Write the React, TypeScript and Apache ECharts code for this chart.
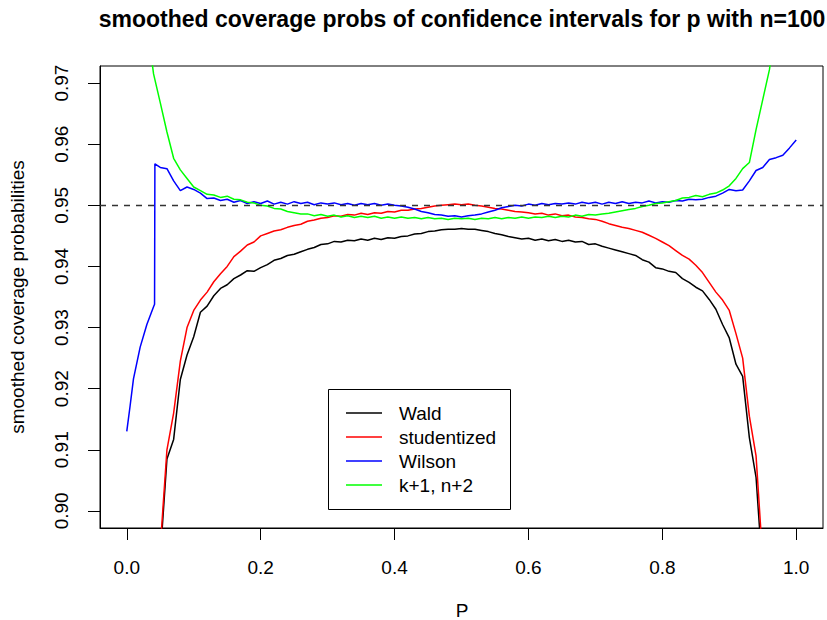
import React, { useEffect, useRef } from "react";
import * as echarts from "echarts";

const FONT = "'Liberation Sans', Arial, Helvetica, sans-serif";

const titleText = "smoothed coverage probs of confidence intervals for p with n=100";
const xLabel = "P";
const yLabel = "smoothed coverage probabilities";

const seriesNames = ["Wald", "studentized", "Wilson", "k+1, n+2"];
const seriesColors = ["#000000", "#FF0000", "#0000FF", "#00FF00"];

const xTicks = [0, 0.2, 0.4, 0.6, 0.8, 1.0];
const yTicks = [0.9, 0.91, 0.92, 0.93, 0.94, 0.95, 0.96, 0.97];
const refLevel = 0.95;

const pGrid = [
  0.00, 0.01, 0.02, 0.03, 0.04, 0.05, 0.06, 0.07, 0.08, 0.09,
  0.10, 0.11, 0.12, 0.13, 0.14, 0.15, 0.16, 0.17, 0.18, 0.19,
  0.20, 0.21, 0.22, 0.23, 0.24, 0.25, 0.26, 0.27, 0.28, 0.29,
  0.30, 0.31, 0.32, 0.33, 0.34, 0.35, 0.36, 0.37, 0.38, 0.39,
  0.40, 0.41, 0.42, 0.43, 0.44, 0.45, 0.46, 0.47, 0.48, 0.49,
  0.50, 0.51, 0.52, 0.53, 0.54, 0.55, 0.56, 0.57, 0.58, 0.59,
  0.60, 0.61, 0.62, 0.63, 0.64, 0.65, 0.66, 0.67, 0.68, 0.69,
  0.70, 0.71, 0.72, 0.73, 0.74, 0.75, 0.76, 0.77, 0.78, 0.79,
  0.80, 0.81, 0.82, 0.83, 0.84, 0.85, 0.86, 0.87, 0.88, 0.89,
  0.90, 0.91, 0.92, 0.93, 0.94, 0.95, 0.96, 0.97, 0.98, 0.99,
  1.00,
];

const wald = [
  null, null, null, null, 0.872, 0.8925, 0.9085, 0.9117, 0.9215, 0.9255,
  0.9285, 0.9325, 0.9335, 0.9352, 0.9364, 0.937, 0.938, 0.9386, 0.9393, 0.9392,
  0.9398, 0.9403, 0.941, 0.9413, 0.9418, 0.942, 0.9424, 0.9428, 0.9431, 0.9436,
  0.9437, 0.9441, 0.944, 0.9443, 0.9442, 0.9445, 0.9443, 0.9446, 0.9444, 0.9447,
  0.9446, 0.9449, 0.945, 0.9453, 0.9454, 0.9457, 0.9458, 0.946, 0.9461, 0.9461,
  0.9462, 0.9461, 0.9461, 0.9459, 0.9457, 0.9454, 0.9452, 0.9449, 0.9447, 0.9445,
  0.9446, 0.9443, 0.9445, 0.9442, 0.9444, 0.9441, 0.9443, 0.944, 0.9441, 0.9436,
  0.9437, 0.9433, 0.943, 0.9427, 0.9424, 0.9421, 0.9418, 0.9411, 0.9407, 0.9398,
  0.9396, 0.9392, 0.939, 0.938, 0.9374, 0.9366, 0.936, 0.9346, 0.933, 0.9305,
  0.9283, 0.924, 0.922, 0.912, 0.9055, 0.8895, 0.87, null, null, null,
  null,
];

const studentized = [
  null, null, null, null, 0.87, 0.894, 0.91, 0.916, 0.9245, 0.93,
  0.9328, 0.9345, 0.9358, 0.9375, 0.9388, 0.94, 0.9416, 0.9425, 0.9435, 0.944,
  0.945, 0.9454, 0.9458, 0.946, 0.9464, 0.9467, 0.9469, 0.9474, 0.9476, 0.9479,
  0.948, 0.9483, 0.9482, 0.9485, 0.9484, 0.9487, 0.9485, 0.9488, 0.9487, 0.949,
  0.9489, 0.9492, 0.9492, 0.9494, 0.9495, 0.9497, 0.9499, 0.95, 0.9501, 0.9502,
  0.9501, 0.9502, 0.95, 0.9499, 0.9497, 0.9495, 0.9494, 0.9492, 0.949, 0.9489,
  0.9488, 0.9486, 0.9487, 0.9484, 0.9486, 0.9483, 0.9484, 0.9481, 0.948, 0.9478,
  0.9477, 0.9474, 0.947, 0.9467, 0.9464, 0.9462, 0.9459, 0.9456, 0.9451, 0.9446,
  0.944, 0.9434, 0.9426, 0.9418, 0.9412, 0.9402, 0.939, 0.9374, 0.9358, 0.9345,
  0.9328, 0.929, 0.925, 0.9155, 0.909, 0.892, 0.87, null, null, null,
  null,
];

// Wilson: low end with its jump near p = 0.042
const wilsonLowP = [0, 0.005, 0.01, 0.02, 0.03, 0.04, 0.0415, 0.042];
const wilsonLowV = [0.913, 0.9172, 0.9216, 0.9268, 0.9305, 0.9334, 0.9338, 0.9568];
// Wilson from p = 0.05 to 1.00 on pGrid
const wilsonRest = [
  0.9562, 0.956, 0.954, 0.9524, 0.953,
  0.9526, 0.952, 0.9511, 0.9512, 0.9508, 0.951, 0.9505, 0.9508, 0.9503, 0.9506,
  0.9503, 0.9507, 0.9502, 0.9505, 0.9502, 0.9506, 0.9503, 0.9505, 0.9501, 0.9504,
  0.9502, 0.9504, 0.9501, 0.9503, 0.95, 0.9503, 0.9501, 0.9503, 0.95, 0.9502,
  0.95, 0.9499, 0.9497, 0.9494, 0.949, 0.9488, 0.9485, 0.9484, 0.9482, 0.9483,
  0.9481, 0.9483, 0.9484, 0.9486, 0.9489, 0.9492, 0.9496, 0.9498, 0.95, 0.9499,
  0.9502, 0.95, 0.9503, 0.9501, 0.9503, 0.9502, 0.9504, 0.9502, 0.9505, 0.9503,
  0.9505, 0.9502, 0.9505, 0.9503, 0.9506, 0.9503, 0.9505, 0.9504, 0.9507, 0.9504,
  0.9506, 0.9505, 0.9508, 0.9507, 0.951, 0.9509, 0.951, 0.9513, 0.9515, 0.952,
  0.9526, 0.9524, 0.9525, 0.954, 0.9557, 0.9562, 0.9575, 0.9578, 0.9582, 0.9594,
  0.9607,
];

const kPlus1 = [
  null, null, 0.99, 0.98, 0.9715, 0.9668, 0.962, 0.9577, 0.9558, 0.9544,
  0.953, 0.9524, 0.9518, 0.9517, 0.9513, 0.9515, 0.951, 0.9509, 0.9505, 0.9504,
  0.95, 0.9499, 0.9495, 0.9494, 0.949, 0.9488, 0.9486, 0.9486, 0.9483, 0.9485,
  0.9482, 0.9484, 0.9481, 0.9483, 0.948, 0.9482, 0.948, 0.9482, 0.9479, 0.9481,
  0.9479, 0.9481, 0.9479, 0.948, 0.9478, 0.948, 0.9478, 0.9479, 0.9477, 0.9479,
  0.9478, 0.9479, 0.9477, 0.9479, 0.9478, 0.948, 0.9478, 0.948, 0.9479, 0.9481,
  0.9479, 0.9481, 0.948, 0.9482, 0.948, 0.9482, 0.9481, 0.9484, 0.9482, 0.9485,
  0.9484, 0.9486, 0.9487, 0.9489, 0.9491, 0.9493, 0.9495, 0.9498, 0.95, 0.9503,
  0.9504, 0.9506, 0.9508, 0.9512, 0.9513, 0.9516, 0.9514, 0.9518, 0.952, 0.9525,
  0.9532, 0.9544, 0.956, 0.957, 0.9624, 0.9673, 0.9722, 0.98, 0.99, null,
  null,
];

const onGrid = (vals: (number | null)[]) => pGrid.map((p, i) => [p, vals[i]]);

export default function App() {
  const ref = useRef<HTMLDivElement>(null);

  useEffect(() => {
    if (!ref.current) return;
    const chart = echarts.init(ref.current, undefined, { renderer: "svg" });

    const wilsonData = [
      ...wilsonLowP.map((p, i) => [p, wilsonLowV[i]]),
      ...pGrid.slice(5).map((p, i) => [p, wilsonRest[i]]),
    ];
    const datasets = [onGrid(wald), onGrid(studentized), wilsonData, onGrid(kPlus1)];

    const legendTop = 389.5;
    const legendRowY = (i: number) => 413 + 24 * i;

    chart.setOption({
      animation: false,
      backgroundColor: "#ffffff",
      grid: {
        left: 100,
        top: 66,
        width: 723,
        height: 462,
        show: true,
        borderColor: "#000",
        borderWidth: 1,
        backgroundColor: "transparent",
      },
      xAxis: {
        type: "value",
        min: -0.04,
        max: 1.04,
        axisLine: { show: true, onZero: false, lineStyle: { color: "#000", width: 1 } },
        splitLine: { show: false },
        axisTick: {
          show: true,
          inside: false,
          length: 12,
          customValues: xTicks,
          lineStyle: { color: "#000", width: 1 },
        },
        axisLabel: {
          customValues: xTicks,
          formatter: (v: number) => v.toFixed(1),
          fontSize: 19,
          fontFamily: FONT,
          color: "#000",
          margin: 30,
        },
      },
      yAxis: {
        type: "value",
        min: 0.8972,
        max: 0.9728,
        axisLine: { show: true, onZero: false, lineStyle: { color: "#000", width: 1 } },
        splitLine: { show: false },
        axisTick: {
          show: true,
          inside: false,
          length: 12,
          customValues: yTicks,
          lineStyle: { color: "#000", width: 1 },
        },
        axisLabel: {
          customValues: yTicks,
          formatter: (v: number) => v.toFixed(2),
          rotate: 90,
          fontSize: 19,
          fontFamily: FONT,
          color: "#000",
          margin: 29,
        },
      },
      series: datasets.map((d, i) => ({
        type: "line",
        name: seriesNames[i],
        data: d,
        showSymbol: false,
        symbol: "none",
        clip: true,
        connectNulls: false,
        lineStyle: { color: seriesColors[i], width: 1.5 },
        itemStyle: { color: seriesColors[i] },
        ...(i === datasets.length - 1
          ? {
              markLine: {
                silent: true,
                symbol: "none",
                label: { show: false },
                lineStyle: { color: "#333", width: 1.3, type: [6, 6] },
                data: [{ yAxis: refLevel }],
              },
            }
          : {}),
      })),
      graphic: [
        {
          type: "text",
          x: 462,
          y: 19,
          style: {
            text: titleText,
            fontSize: 23,
            fontWeight: "bold",
            fontFamily: FONT,
            fill: "#000",
            align: "center",
            verticalAlign: "middle",
          },
        },
        {
          type: "rect",
          z: 100,
          shape: { x: 328.5, y: legendTop, width: 182, height: 120 },
          style: { fill: "#fff", stroke: "#000", lineWidth: 1 },
        },
        ...seriesNames.map((_, i) => ({
          type: "line",
          z: 101,
          shape: { x1: 346, y1: legendRowY(i), x2: 382, y2: legendRowY(i) },
          style: { stroke: seriesColors[i], lineWidth: 1.5 },
        })),
        ...seriesNames.map((n, i) => ({
          type: "text",
          z: 101,
          x: 399,
          y: legendRowY(i),
          style: {
            text: n,
            fontSize: 19,
            fontFamily: FONT,
            fill: "#000",
            align: "left",
            verticalAlign: "middle",
          },
        })),
        {
          type: "text",
          x: 17.5,
          y: 297,
          rotation: Math.PI / 2,
          style: {
            text: yLabel,
            fontSize: 19,
            fontFamily: FONT,
            fill: "#000",
            align: "center",
            verticalAlign: "middle",
          },
        },
        {
          type: "text",
          x: 462,
          y: 610,
          style: {
            text: xLabel,
            fontSize: 19,
            fontFamily: FONT,
            fill: "#000",
            align: "center",
            verticalAlign: "middle",
          },
        },
      ],
    });

    return () => chart.dispose();
  }, []);

  return (
    <div
      ref={ref}
      style={{ position: "fixed", left: 0, top: 0, width: 827, height: 620 }}
    />
  );
}
